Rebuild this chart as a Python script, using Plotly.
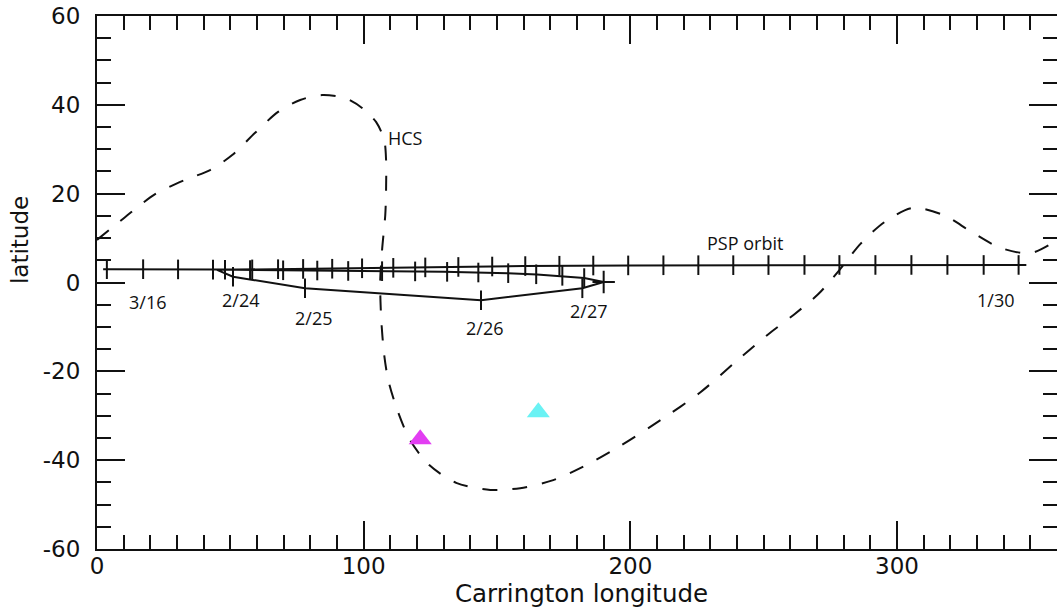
import plotly.graph_objects as go

# Heliospheric current sheet (Carrington longitude / latitude, degrees)
hcs_lon = [0, 10.5, 21.8, 33.0, 42.4, 50.7, 59.3, 67.9, 76.2, 84.4, 93.1, 99.4,
           104.7, 107.7, 108.4, 108.4, 108.1, 106.9, 106.2, 106.6, 107.7, 109.2,
           112.6, 117.4, 124.6, 134.7, 147.5, 158.7, 171.1, 181.2, 196.2, 211.3,
           226.3, 239.4, 251.4, 261.2, 270.5, 278.4, 286.3, 295.3, 305.8, 317.4,
           327.9, 338.8, 350.1, 360.0]
hcs_lat = [9.6, 14.7, 19.9, 23.1, 25.3, 28.7, 33.7, 38.4, 41.1, 42.2, 41.5, 39.3,
           36.1, 32.1, 27.6, 20.8, 15.2, 7.3, 0.1, -8.4, -16.3, -21.9,
           -28.7, -35.5, -41.1, -45.1, -46.7, -46.3, -44.5, -41.8, -36.8, -31.0,
           -24.7, -17.9, -11.8, -7.3, -2.6, 2.8, 8.7, 13.6, 16.8, 15.2,
           11.4, 7.8, 6.6, 9.5]

# PSP track: inbound leg, perihelion loop, outbound leg
orbit_lon = [348.5, 300, 250, 200, 160, 120, 90, 65, 45,
             51, 78, 144, 182, 190,
             182.7, 165, 154, 130, 100, 70, 45, 3.7, 2.3]
orbit_lat = [3.95, 3.93, 3.9, 3.85, 3.7, 3.4, 3.15, 2.95, 2.85,
             1.3, -1.3, -4.0, -1.3, 0.1,
             1.0, 1.8, 2.1, 2.4, 2.6, 2.75, 2.9, 3.0, 3.0]

# daily position marks along the track
inbound_tick_lon = [345.6, 332.5, 318.9, 305.4, 291.9, 278.4, 265.3, 251.8, 238.6,
                    225.5, 212.4, 199.2, 186.1, 173.4, 160.6, 148.2, 135.5, 123.1,
                    111.1, 99.4, 88.2, 77.3, 67.9, 58.2, 48.0]
inbound_tick_lat = [3.95, 3.95, 3.95, 3.95, 3.95, 3.95, 3.95, 3.92, 3.9,
                    3.9, 3.88, 3.85, 3.82, 3.78, 3.7, 3.6, 3.5, 3.4,
                    3.3, 3.2, 3.1, 3.05, 3.0, 2.95, 2.87]
loop_tick_lon = [51, 78, 144, 182]
loop_tick_lat = [1.3, -1.3, -4.0, -1.3]
outbound_tick_lon = [182.7, 174.5, 164.7, 154.2, 143.0, 131.3, 119.3, 106.9,
                     94.2, 82.6, 69.8, 57.4, 43.5, 30.4, 17.3, 3.7]
outbound_tick_lat = [1.0, 1.5, 1.85, 2.1, 2.25, 2.4, 2.5, 2.55,
                     2.6, 2.7, 2.75, 2.8, 2.9, 2.95, 3.0, 3.0]
turn_lon = [190]
turn_lat = [0.1]

# date labels along the track
date_text = ["3/16", "2/24", "2/25", "2/26", "2/27", "1/30"]
date_lon = [18.8, 53.7, 81.0, 145.2, 184.2, 337.0]
date_lat = [-4.4, -3.9, -8.0, -10.2, -6.4, -3.9]

# sources
src_lon = [121.2, 165.5]
src_lat = [-35.3, -29.2]
src_color = ["#E23EF2", "#6AF2F4"]

# axis ticks
x_tickvals = [0, 100, 200, 300]
x_ticktext = ["0", "100", "200", "300"]
y_tickvals = [-60, -40, -20, 0, 20, 40, 60]
y_ticktext = ["-60", "-40", "-20", "0", "20", "40", "60"]

INK = "#111111"
fig = go.Figure()

fig.add_trace(go.Scatter(
    x=hcs_lon, y=hcs_lat, mode="lines",
    line=dict(color=INK, width=2, dash="15px,15px", shape="spline", smoothing=0.8),
    hoverinfo="skip"))

fig.add_trace(go.Scatter(
    x=orbit_lon, y=orbit_lat, mode="lines",
    line=dict(color=INK, width=2), hoverinfo="skip"))

tick_marker = dict(symbol="line-ns", size=14, line=dict(color=INK, width=2))
for lo, la in [(inbound_tick_lon, inbound_tick_lat),
               (loop_tick_lon, loop_tick_lat),
               (outbound_tick_lon, outbound_tick_lat)]:
    fig.add_trace(go.Scatter(x=lo, y=la, mode="markers", marker=tick_marker,
                             hoverinfo="skip"))

fig.add_trace(go.Scatter(
    x=turn_lon, y=turn_lat, mode="markers",
    marker=dict(symbol="cross-thin", size=16, line=dict(color=INK, width=2)),
    hoverinfo="skip"))

fig.add_trace(go.Scatter(
    x=src_lon, y=src_lat, mode="markers",
    marker=dict(symbol="triangle-up", size=20, color=src_color, line=dict(width=0)),
    hoverinfo="skip"))

# invisible trace carrying the top and right tick axes
fig.add_trace(go.Scatter(x=[0], y=[0], xaxis="x2", yaxis="y2", mode="markers",
                         marker=dict(opacity=0), hoverinfo="skip"))

label_font = dict(family="Open Sans", size=18, color=INK)
for t, lo, la in zip(date_text, date_lon, date_lat):
    fig.add_annotation(x=lo, y=la, text=t, showarrow=False, font=label_font,
                       xanchor="center", yanchor="middle")
fig.add_annotation(x=243, y=8.9, text="PSP orbit", showarrow=False, font=label_font)
fig.add_annotation(x=115.6, y=32.5, text="HCS", showarrow=False, font=label_font)

title_font = dict(family="DejaVu Sans", size=24.5, color=INK)
fig.add_annotation(x=181.5, y=-0.083, xref="x", yref="paper", text="Carrington longitude",
                   showarrow=False, font=title_font, xanchor="center", yanchor="middle")
fig.add_annotation(x=-0.080, y=9.6, xref="paper", yref="y", text="latitude",
                   showarrow=False, font=dict(family="DejaVu Sans", size=23, color=INK),
                   textangle=-90, xanchor="center", yanchor="middle")

tick_font = dict(family="DejaVu Sans", size=23, color=INK)


def minor_ticks(step):
    return dict(dtick=step, tick0=0, ticks="inside", ticklen=14, tickwidth=2,
                tickcolor=INK, showgrid=False)


fig.update_layout(
    width=1058, height=612,
    margin=dict(l=97, r=1, t=16, b=63),
    paper_bgcolor="white", plot_bgcolor="white",
    showlegend=False,
    xaxis=dict(range=[0, 360], tickmode="array", tickvals=x_tickvals,
               ticktext=x_ticktext, showline=True, linewidth=2, linecolor=INK,
               mirror=True, ticks="inside", ticklen=28, tickwidth=2,
               tickcolor=INK, tickfont=tick_font, ticklabelstandoff=-5,
               showgrid=False, zeroline=False, minor=minor_ticks(10)),
    xaxis2=dict(range=[0, 360], tickmode="array", tickvals=x_tickvals,
                overlaying="x", side="top", anchor="y", showline=False,
                showticklabels=False, ticks="inside", ticklen=28, tickwidth=2,
                tickcolor=INK, showgrid=False, zeroline=False,
                minor=minor_ticks(10)),
    yaxis=dict(range=[-60, 60], tickmode="array", tickvals=y_tickvals,
               ticktext=y_ticktext, showline=True, linewidth=2, linecolor=INK,
               mirror=False, ticks="inside", ticklen=28, tickwidth=2,
               tickcolor=INK, tickfont=tick_font, ticklabelstandoff=10,
               showgrid=False, zeroline=False, minor=minor_ticks(5)),
    yaxis2=dict(range=[-60, 60], tickmode="array", tickvals=y_tickvals,
                overlaying="y", side="right", anchor="x", showline=False,
                showticklabels=False, ticks="inside", ticklen=28, tickwidth=2,
                tickcolor=INK, showgrid=False, zeroline=False,
                minor=minor_ticks(5)),
)

fig.write_html("out.html")
